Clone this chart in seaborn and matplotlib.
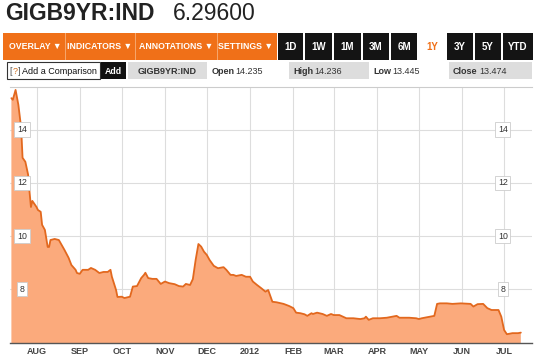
import matplotlib
matplotlib.use("Agg")
import matplotlib.pyplot as plt
import matplotlib.dates as mdates
from matplotlib.patches import Rectangle
import matplotlib.transforms as mtrans
import seaborn as sns
import pandas as pd

# ---- data ----
ticker = "GIGB9YR:IND"
last_price = "6.29600"
open_px, high_px, low_px, close_px = "14.235", "14.236", "13.445", "13.474"

dates = (
    ["2011-07-14", "2011-07-15", "2011-07-17", "2011-07-19", "2011-07-21", "2011-07-22",
     "2011-07-24", "2011-07-26", "2011-07-27", "2011-07-28", "2011-07-29"]
    + ["2011-08-01", "2011-08-02", "2011-08-04", "2011-08-05", "2011-08-07", "2011-08-09",
       "2011-08-10", "2011-08-11", "2011-08-14", "2011-08-17", "2011-08-21", "2011-08-24",
       "2011-08-26", "2011-08-29", "2011-08-30"]
    + ["2011-09-01", "2011-09-03", "2011-09-07", "2011-09-09", "2011-09-12", "2011-09-15",
       "2011-09-18", "2011-09-21", "2011-09-23", "2011-09-24", "2011-09-27", "2011-09-28"]
    + ["2011-10-01", "2011-10-03", "2011-10-07", "2011-10-09", "2011-10-12", "2011-10-15",
       "2011-10-17", "2011-10-18", "2011-10-20", "2011-10-23", "2011-10-26", "2011-10-29"]
    + ["2011-11-01", "2011-11-04", "2011-11-08", "2011-11-11", "2011-11-14", "2011-11-16",
       "2011-11-19", "2011-11-21", "2011-11-23", "2011-11-25", "2011-11-27", "2011-11-29"]
    + ["2011-12-01", "2011-12-03", "2011-12-06", "2011-12-09", "2011-12-13", "2011-12-15",
       "2011-12-18", "2011-12-20", "2011-12-22", "2011-12-26", "2011-12-29"]
    + ["2012-01-01", "2012-01-03", "2012-01-06", "2012-01-09", "2012-01-12", "2012-01-14",
       "2012-01-17", "2012-01-20", "2012-01-25", "2012-01-29"]
    + ["2012-02-01", "2012-02-03", "2012-02-06", "2012-02-09", "2012-02-11", "2012-02-14",
       "2012-02-15", "2012-02-18", "2012-02-22", "2012-02-25", "2012-02-28"]
    + ["2012-03-01", "2012-03-05", "2012-03-10", "2012-03-15", "2012-03-20", "2012-03-23",
       "2012-03-24", "2012-03-26", "2012-03-29"]
    + ["2012-04-03", "2012-04-08", "2012-04-15", "2012-04-17", "2012-04-24", "2012-04-29"]
    + ["2012-05-01", "2012-05-03", "2012-05-07", "2012-05-12", "2012-05-14", "2012-05-16",
       "2012-05-21", "2012-05-25", "2012-05-31"]
    + ["2012-06-07", "2012-06-09", "2012-06-12", "2012-06-16", "2012-06-19", "2012-06-22",
       "2012-06-27", "2012-06-29"]
    + ["2012-07-01", "2012-07-03", "2012-07-07", "2012-07-11", "2012-07-13"]
)

values = (
    [15.18, 15.12, 15.49, 14.93, 14.06, 12.94, 12.79, 12.30, 11.66, 11.09, 11.32]
    + [11.09, 10.98, 10.91, 10.42, 10.23, 9.59, 9.59, 9.85, 9.89, 9.85, 9.48, 9.18, 8.91, 8.73, 8.61]
    + [8.58, 8.73, 8.73, 8.80, 8.73, 8.61, 8.65, 8.65, 8.73, 8.47, 7.97, 7.71]
    + [7.72, 7.67, 7.72, 8.10, 8.12, 8.42, 8.54, 8.62, 8.42, 8.39, 8.39, 8.20]
    + [8.29, 8.23, 8.19, 8.12, 8.10, 8.20, 8.16, 8.38, 9.10, 9.70, 9.60, 9.41]
    + [9.29, 9.10, 8.88, 8.79, 8.83, 8.73, 8.54, 8.54, 8.50, 8.54, 8.47]
    + [8.47, 8.29, 8.16, 8.04, 7.91, 7.97, 7.53, 7.51, 7.45, 7.37]
    + [7.29, 7.12, 7.10, 7.06, 7.00, 7.10, 7.07, 7.12, 7.07, 7.00, 7.07]
    + [7.03, 7.03, 6.91, 6.91, 6.88, 6.91, 6.97, 6.85, 6.91]
    + [6.91, 6.93, 7.00, 6.93, 6.93, 6.91]
    + [6.88, 6.91, 6.95, 7.00, 7.45, 7.47, 7.47, 7.45, 7.47]
    + [7.45, 7.35, 7.44, 7.45, 7.29, 7.22, 7.22, 6.97]
    + [6.47, 6.31, 6.35, 6.35, 6.37]
)

month_ticks = ["2011-08-01", "2011-09-01", "2011-10-01", "2011-11-01", "2011-12-01",
               "2012-01-01", "2012-02-01", "2012-03-01", "2012-04-01", "2012-05-01",
               "2012-06-01", "2012-07-01"]
month_labels = ["AUG", "SEP", "OCT", "NOV", "DEC", "2012", "FEB", "MAR", "APR", "MAY", "JUN", "JUL"]
y_ticks = [8, 10, 12, 14]

df = pd.DataFrame({"date": pd.to_datetime(dates), "value": values})

# ---- figure ----
sns.set_style("white")
plt.rcParams['font.family'] = ['Liberation Sans', 'DejaVu Sans']

W, H = 535, 359
fig = plt.figure(figsize=(W / 100, H / 100), dpi=100)


def box(x, y, w, h, **kw):
    # pixel box (top-left origin) in figure coordinates
    fig.add_artist(Rectangle((x / W, 1 - (y + h) / H), w / W, h / H,
                             transform=fig.transFigure, **kw))


def txt(x, y, s, **kw):
    fig.text(x / W, 1 - y / H, s, **kw)


# header
txt(5, 20, ticker, fontsize=16.5, fontweight="bold", color="#222222", va="baseline")
txt(173, 20, last_price, fontsize=16.5, color="#222222", va="baseline")

# orange toolbar
orange = "#F07018"
box(3, 33, 274, 27, facecolor=orange, edgecolor="none")
for sx in [65, 135, 217]:
    box(sx, 33, 1, 27, facecolor="#F6A56A", edgecolor="none")
for cx, lab in [(35, "OVERLAY ▼"), (100, "INDICATORS ▼"), (176, "ANNOTATIONS ▼"), (246, "SETTINGS ▼")]:
    txt(cx, 46.5, lab, fontsize=6.3, fontweight="bold", color="white", ha="center", va="center")

for x0, x1, lab in [(278, 303, "1D"), (305, 332, "1W"), (334, 361, "1M"), (363, 389, "3M"),
                    (391, 417, "6M"), (447, 473, "3Y"), (475, 501, "5Y"), (503, 533, "YTD")]:
    box(x0, 33, x1 - x0, 27, facecolor="#141414", edgecolor="none")
    txt((x0 + x1) / 2, 46.5, lab, fontsize=7, fontweight="bold", color="white", ha="center", va="center")
txt(432, 46.5, "1Y", fontsize=7, fontweight="bold", color=orange, ha="center", va="center")

# second row
box(7, 62, 93, 17, facecolor="white", edgecolor="#333333", linewidth=0.8)
txt(9, 71, "[", fontsize=6.5, color="#555555", va="center")
txt(12.5, 71, "?", fontsize=6.5, color="#D07020", va="center")
txt(17.5, 71, "]", fontsize=6.5, color="#555555", va="center")
txt(22, 71, "Add a Comparison", fontsize=6.5, color="#111111", va="center")
box(101, 62, 25, 17, facecolor="#111111", edgecolor="none")
txt(113.5, 71, "Add", fontsize=6.3, fontweight="bold", color="white", ha="center", va="center")
box(128, 62, 79, 17, facecolor="#DDDDDD", edgecolor="none")
txt(167.5, 71, ticker, fontsize=6.5, fontweight="bold", color="#333333", ha="center", va="center")
txt(212, 71, "Open", fontsize=6.5, fontweight="bold", color="#333333", va="center")
txt(235, 71, open_px, fontsize=6.5, color="#333333", va="center")
box(289, 62, 80, 17, facecolor="#DDDDDD", edgecolor="none")
txt(293, 71, "High", fontsize=6.5, fontweight="bold", color="#333333", va="center")
txt(314, 71, high_px, fontsize=6.5, color="#333333", va="center")
txt(373, 71, "Low", fontsize=6.5, fontweight="bold", color="#333333", va="center")
txt(392, 71, low_px, fontsize=6.5, color="#333333", va="center")
box(449, 62, 83, 17, facecolor="#DDDDDD", edgecolor="none")
txt(453, 71, "Close", fontsize=6.5, fontweight="bold", color="#333333", va="center")
txt(479, 71, close_px, fontsize=6.5, color="#333333", va="center")

# chart
ax = fig.add_axes([10 / W, 16 / H, 522 / W, (343 - 87) / H])
ax.fill_between(df["date"], df["value"], 0, color="#FBAA7C", linewidth=0)
sns.lineplot(data=df, x="date", y="value", ax=ax, color="#E2681E", linewidth=1.3)

ax.set_xlim(pd.Timestamp("2011-07-13"), pd.Timestamp("2012-07-21"))
ax.set_ylim(5.98, 15.6)
ax.set_xticks(pd.to_datetime(month_ticks))
ax.set_xticklabels(month_labels, fontsize=6.5, fontweight="bold", color="#444444")
ax.set_yticks(y_ticks)
ax.set_yticklabels([])
ax.tick_params(axis="both", length=0)
ax.tick_params(axis="x", pad=3)
ax.set_xlabel("")
ax.set_ylabel("")
ax.grid(True, color="#DDDDDD", linewidth=0.8)
ax.set_axisbelow(True)

for side in ["left", "right"]:
    ax.spines[side].set_visible(False)
ax.spines["top"].set_color("#CCCCCC")
ax.spines["top"].set_linewidth(0.8)
ax.spines["bottom"].set_color("#555555")
ax.spines["bottom"].set_linewidth(1.0)

# boxed y labels on both sides, inside the plot
trans = mtrans.blended_transform_factory(ax.transAxes, ax.transData)
for v in y_ticks:
    for xa in [0.023, 0.944]:
        ax.text(xa, v, str(v), transform=trans, fontsize=6.3, color="#333333",
                ha="center", va="center", zorder=5,
                bbox=dict(boxstyle="square,pad=0.3", facecolor="white",
                          edgecolor="#CCCCCC", linewidth=0.6))

fig.savefig("out.png", dpi=100)
